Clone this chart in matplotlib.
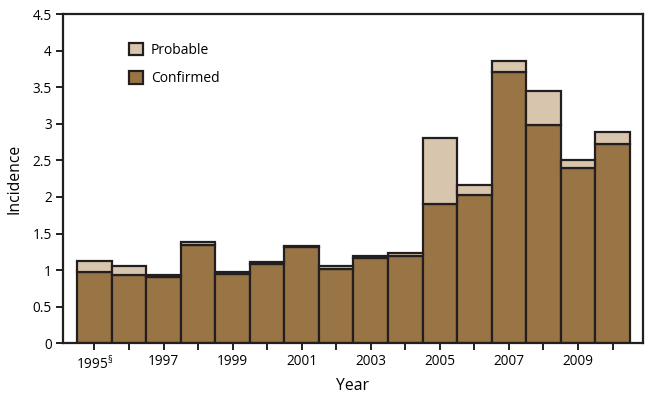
import matplotlib
matplotlib.use("Agg")
import matplotlib.pyplot as plt
from matplotlib.patches import Patch
import numpy as np

years = list(range(1995, 2011))
confirmed = [0.98, 0.94, 0.91, 1.35, 0.95, 1.08, 1.31, 1.02, 1.17, 1.20, 1.91, 2.03, 3.71, 2.99, 2.40, 2.72]
total = [1.12, 1.05, 0.94, 1.38, 0.98, 1.11, 1.33, 1.05, 1.20, 1.24, 2.80, 2.17, 3.86, 3.45, 2.50, 2.89]
probable = [t - c for t, c in zip(total, confirmed)]
tick_labels = ["1995$^\\mathregular{§}$", "", "1997", "", "1999", "", "2001", "", "2003", "", "2005", "", "2007", "", "2009", ""]
yticks = [0, 0.5, 1, 1.5, 2, 2.5, 3, 3.5, 4, 4.5]
ytick_labels = ["0", "0.5", "1", "1.5", "2", "2.5", "3", "3.5", "4", "4.5"]

plt.rcParams['font.family'] = ['Open Sans', 'DejaVu Sans']

c_conf = "#997545"
c_prob = "#D8C5AD"
edge = "#231F20"

fig = plt.figure(figsize=(6.48, 3.98), dpi=100)
ax = fig.add_axes([0.0972, 0.1374, 0.8950, 0.8274])

ax.bar(years, confirmed, width=1.0, color=c_conf, edgecolor=edge, linewidth=1.6, zorder=2)
ax.bar(years, probable, bottom=confirmed, width=1.0, color=c_prob, edgecolor=edge, linewidth=1.6, zorder=2)

ax.set_xlim(1994.09, 2010.88)
ax.set_ylim(0, 4.5)
ax.set_xticks(years)
ax.set_xticklabels(tick_labels, fontsize=9.8)
ax.set_yticks(yticks)
ax.set_yticklabels(ytick_labels, fontsize=9.8)
for s in ax.spines.values():
    s.set_linewidth(1.6)
    s.set_color(edge)
ax.tick_params(axis='both', direction='out', length=5, width=1.4, color=edge, pad=3)
ax.set_xlabel("Year", fontsize=11.3, labelpad=4)
ax.set_ylabel("Incidence", fontsize=11.3, labelpad=7)

handles = [Patch(facecolor=c_prob, edgecolor=edge, linewidth=1.6, label="Probable"),
           Patch(facecolor=c_conf, edgecolor=edge, linewidth=1.6, label="Confirmed")]
ax.legend(handles=handles, loc="upper left", bbox_to_anchor=(0.092, 0.95), frameon=False,
          handlelength=1.0, handleheight=1.0, handletextpad=0.6, labelspacing=0.95, fontsize=10)

fig.savefig("out.png", dpi=100)
